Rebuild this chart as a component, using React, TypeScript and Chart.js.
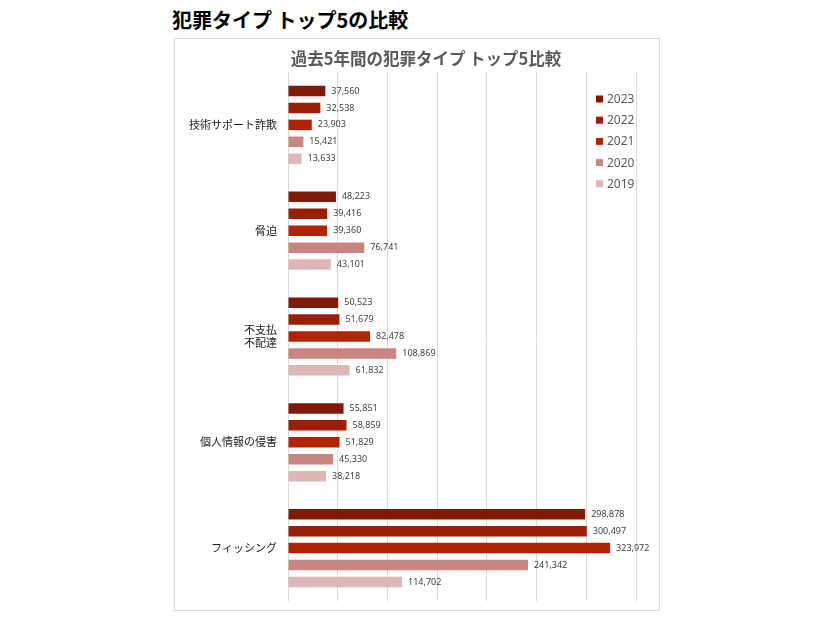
import React, { useEffect, useRef } from "react";
import { Chart, registerables } from "chart.js";

Chart.register(...registerables);

const pageTitle = "犯罪タイプ トップ5の比較";
const chartTitle = "過去5年間の犯罪タイプ トップ5比較";
const categories: (string | string[])[] = [
  "技術サポート詐欺",
  "脅迫",
  ["不支払", "不配達"],
  "個人情報の侵害",
  "フィッシング",
];
const years = ["2023", "2022", "2021", "2020", "2019"];
const values2023 = [37560, 48223, 50523, 55851, 298878];
const values2022 = [32538, 39416, 51679, 58859, 300497];
const values2021 = [23903, 39360, 82478, 51829, 323972];
const values2020 = [15421, 76741, 108869, 45330, 241342];
const values2019 = [13633, 43101, 61832, 38218, 114702];
const seriesValues = [values2023, values2022, values2021, values2020, values2019];
const colors = ["#7F1A06", "#9B1F06", "#B02403", "#C98582", "#DDB6B5"];
const xMax = 350000;
const xStep = 50000;

const FONT = '"Noto Sans CJK JP", "Noto Sans", sans-serif';

const valueLabels = {
  id: "valueLabels",
  afterDatasetsDraw(chart: any) {
    const ctx = chart.ctx;
    ctx.save();
    ctx.font = `9px "Noto Sans", sans-serif`;
    ctx.fillStyle = "#404040";
    ctx.textAlign = "left";
    ctx.textBaseline = "middle";
    chart.data.datasets.forEach((ds: any, di: number) => {
      const meta = chart.getDatasetMeta(di);
      meta.data.forEach((el: any, i: number) => {
        const v = ds.data[i] as number;
        ctx.fillText(v.toLocaleString("en-US"), el.x + 6, el.y);
      });
    });
    ctx.restore();
  },
};

const customLegend = {
  id: "customLegend",
  afterDraw(chart: any) {
    const ctx = chart.ctx;
    const area = chart.chartArea;
    const x0 = area.right - 40;
    const y0 = area.top + 27;
    ctx.save();
    ctx.font = `12px "Noto Sans", sans-serif`;
    ctx.textAlign = "left";
    ctx.textBaseline = "middle";
    chart.data.datasets.forEach((ds: any, i: number) => {
      const y = y0 + i * 21.2;
      ctx.fillStyle = ds.backgroundColor;
      ctx.fillRect(x0, y - 3.5, 7, 7);
      ctx.fillStyle = "#595959";
      ctx.fillText(ds.label, x0 + 11, y + 0.5);
    });
    ctx.restore();
  },
};

const chartTitlePlugin = {
  id: "chartTitlePlugin",
  afterDraw(chart: any) {
    const ctx = chart.ctx;
    const area = chart.chartArea;
    ctx.save();
    ctx.font = `bold 16.5px ${FONT}`;
    ctx.fillStyle = "#595959";
    ctx.textAlign = "center";
    ctx.textBaseline = "middle";
    ctx.fillText(chartTitle, area.left + 138, area.top - 13);
    ctx.restore();
  },
};

export default function App() {
  const ref = useRef<HTMLCanvasElement>(null);
  useEffect(() => {
    if (!ref.current) return;
    const chart = new Chart(ref.current, {
      type: "bar",
      data: {
        labels: categories,
        datasets: years.map((y, i) => ({
          label: y,
          data: seriesValues[i],
          backgroundColor: colors[i],
          borderWidth: 0,
          categoryPercentage: 0.8,
          barPercentage: 0.62,
        })),
      },
      options: {
        indexAxis: "y",
        responsive: false,
        animation: false,
        layout: { padding: { left: 0, right: 23, top: 33, bottom: 9 } },
        scales: {
          x: {
            min: 0,
            max: xMax,
            ticks: { display: false, stepSize: xStep },
            grid: { color: "#D9D9D9", drawTicks: false, lineWidth: 1 },
            border: { display: false },
            afterFit: (scale: any) => {
              scale.height = 0;
            },
          },
          y: {
            grid: { display: false, drawTicks: false },
            border: { display: false },
            ticks: {
              font: { family: FONT, size: 11 },
              color: "#1A1A1A",
              padding: 11,
            },
            afterFit: (scale: any) => {
              scale.width = 113;
              scale.paddingTop = 0;
              scale.paddingBottom = 0;
            },
          },
        },
        plugins: {
          legend: { display: false },
          tooltip: { enabled: false },
          title: { display: false },
        },
      },
      plugins: [valueLabels, customLegend, chartTitlePlugin],
    });
    return () => chart.destroy();
  }, []);

  return (
    <div>
      <div
        style={{
          position: "absolute",
          left: 172,
          top: 10,
          fontFamily: FONT,
          fontWeight: "bold",
          fontSize: 20,
          lineHeight: "20px",
          color: "#000",
          whiteSpace: "nowrap",
        }}
      >
        {pageTitle}
      </div>
      <div
        style={{
          position: "absolute",
          left: 174,
          top: 38,
          width: 486,
          height: 573,
          border: "1px solid #D9D9D9",
          boxSizing: "border-box",
          background: "#fff",
        }}
      >
        <canvas ref={ref} width={484} height={571} style={{ display: "block" }} />
      </div>
    </div>
  );
}
